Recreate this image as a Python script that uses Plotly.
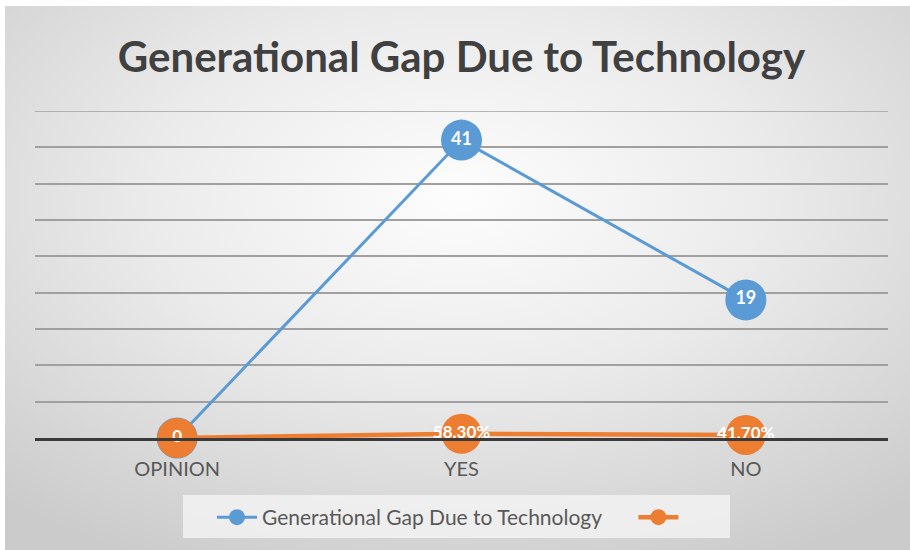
import base64
import plotly.graph_objects as go

# Chart data
categories = ["OPINION", "YES", "NO"]
gap_counts = [0, 41, 19]
gap_shares = [0, 0.583, 0.417]
series_name = "Generational Gap Due to Technology"

W, H = 910, 550
ML, MR, MT, MB = 35, 22, 111, 112
PW, PH = W - ML - MR, H - MT - MB

BLUE = "#5b9bd5"
ORANGE = "#ed7d31"
FONT = "Lato"

share_labels = ["0" if v == 0 else f"{v:.2%}" for v in gap_shares]


def px_x(p):
    return (p - ML) / PW


def px_y(p):
    return (H - MB - p) / PH


# Soft radial gradient backdrop, framed by a thin white margin
svg = f"""<svg xmlns='http://www.w3.org/2000/svg' width='{W}' height='{H}' viewBox='0 0 {W} {H}' preserveAspectRatio='none'>
<defs><radialGradient id='g' cx='0.5' cy='0.35' r='0.75'>
<stop offset='0' stop-color='#fdfdfd'/>
<stop offset='0.45' stop-color='#ebebeb'/>
<stop offset='1' stop-color='#cbcbcb'/>
</radialGradient></defs>
<rect x='0' y='0' width='{W}' height='{H}' fill='#ffffff'/>
<rect x='5' y='6' width='{W-5}' height='{H-6}' fill='url(#g)'/>
</svg>"""
bg_uri = "data:image/svg+xml;base64," + base64.b64encode(svg.encode()).decode()

fig = go.Figure()

fig.add_trace(go.Scatter(
    x=categories, y=gap_counts,
    # trailing no-break spaces widen the gap before the next legend entry
    name=series_name + "\u00a0" * 5,
    mode="lines+markers+text",
    line=dict(color=BLUE, width=3),
    marker=dict(size=41, color=BLUE),
    text=[str(v) for v in gap_counts], textposition="middle center",
    textfont=dict(family=FONT, size=18, color="white", weight="bold"),
    cliponaxis=False,
))

fig.add_trace(go.Scatter(
    x=categories, y=gap_shares, name="",
    mode="lines+markers+text",
    line=dict(color=ORANGE, width=4.5),
    marker=dict(size=40, color=ORANGE),
    text=share_labels, textposition="middle center",
    textfont=dict(family=FONT, size=17, color="white", weight="bold"),
    cliponaxis=False,
))

fig.update_layout(
    width=W, height=H,
    margin=dict(l=ML, r=MR, t=MT, b=MB, autoexpand=False),
    paper_bgcolor="white",
    plot_bgcolor="rgba(0,0,0,0)",
    images=[dict(
        source=bg_uri, xref="paper", yref="paper",
        x=-ML / PW, y=1 + MT / PH, sizex=W / PW, sizey=H / PH,
        xanchor="left", yanchor="top", sizing="stretch", layer="below",
    )],
    shapes=[
        # legend panel
        dict(type="rect", xref="paper", yref="paper", layer="below",
             x0=px_x(183), x1=px_x(730), y0=px_y(538), y1=px_y(495),
             fillcolor="rgba(242,242,242,0.85)", line=dict(width=0)),
        # top gridline at the range edge
        dict(type="line", xref="paper", yref="y", x0=0, x1=1, y0=45, y1=45,
             line=dict(color="#a0a0a0", width=1.5)),
    ],
    title=dict(
        text="Generational Gap Due to Technology",
        x=0.5, xref="paper", xanchor="center",
        y=1 - 57 / H, yanchor="middle",
        font=dict(family=FONT, size=42, color="#404040", weight="bold"),
    ),
    showlegend=True,
    legend=dict(
        orientation="h", x=px_x(212), xanchor="left",
        y=px_y(497), yanchor="top",
        bgcolor="rgba(0,0,0,0)",
        font=dict(family=FONT, size=21, color="#595959"),
        itemwidth=40,
    ),
    xaxis=dict(
        type="category", range=[-0.5, 2.5],
        showgrid=False, zeroline=False,
        showline=True, linecolor="#3a3a3a", linewidth=3,
        ticks="", ticklabelstandoff=11,
        tickfont=dict(family=FONT, size=20, color="#595959"),
    ),
    yaxis=dict(
        range=[0, 45], dtick=5,
        showgrid=True, gridcolor="#a0a0a0", gridwidth=1.5,
        zeroline=False, showticklabels=False, showline=False,
    ),
)

fig.write_html("out.html")
